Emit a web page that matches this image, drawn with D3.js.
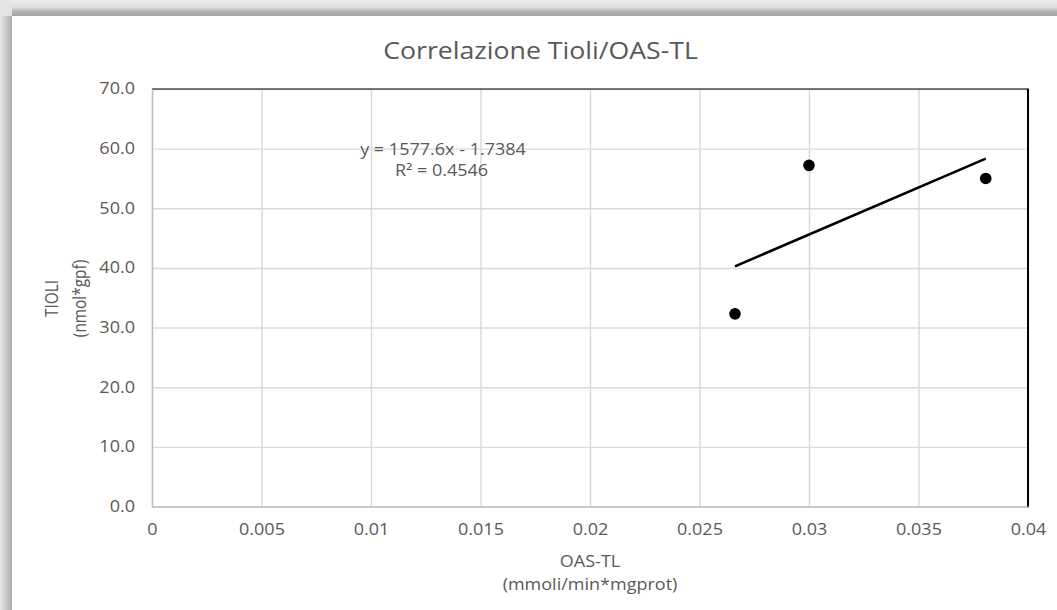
<!DOCTYPE html>
<html>
<head>
<meta charset="utf-8">
<script src="https://cdn.jsdelivr.net/npm/d3@7"></script>
<style>
  html, body { margin: 0; padding: 0; background: #ffffff; }
  svg { display: block; }
  text { font-family: "Open Sans", "Noto Sans", sans-serif; fill: #595959; }
</style>
</head>
<body>
<svg id="chart" width="1057" height="610"></svg>
<script>
// ---- data ----
const title = "Correlazione Tioli/OAS-TL";
const xTitle = ["OAS-TL", "(mmoli/min*mgprot)"];
const yTitle = ["TIOLI", "(nmol*gpf)"];
const oasTL = [0.02662, 0.0300, 0.03807];
const tioli = [32.3, 57.2, 55.0];
const xTickValues = [0, 0.005, 0.01, 0.015, 0.02, 0.025, 0.03, 0.035, 0.04];
const xTickLabels = ["0", "0.005", "0.01", "0.015", "0.02", "0.025", "0.03", "0.035", "0.04"];
const yTickValues = [0, 10, 20, 30, 40, 50, 60, 70];
const yTickLabels = ["0.0", "10.0", "20.0", "30.0", "40.0", "50.0", "60.0", "70.0"];
const trendSlope = 1577.6;
const trendIntercept = -1.7384;
const equationText = "y = 1577.6x - 1.7384";
const r2Text = "R² = 0.4546";

// ---- layout ----
const W = 1057, H = 610;
const SX = 1.17;          // horizontal stretch of the text in the picture
const FS = 15.4;          // base font size
const plot = { left: 152, right: 1028, top: 89, bottom: 506.5 };
const svg = d3.select("#chart");

function addText(x, y, str, size, rotate) {
  return svg.append("text")
    .attr("transform", `translate(${x},${y}) scale(${SX},1)` + (rotate ? ` rotate(${rotate})` : ""))
    .attr("text-anchor", "middle")
    .style("font-size", size + "px")
    .text(str);
}

// frame / shadow
const defs = svg.append("defs");
const gTop = defs.append("linearGradient").attr("id", "gTop").attr("x1", 0).attr("y1", 0).attr("x2", 0).attr("y2", 1);
gTop.append("stop").attr("offset", "0%").attr("stop-color", "#ebebeb");
gTop.append("stop").attr("offset", "45%").attr("stop-color", "#dedede");
gTop.append("stop").attr("offset", "70%").attr("stop-color", "#b4b4b4");
gTop.append("stop").attr("offset", "100%").attr("stop-color", "#a2a2a2");
const gLeft = defs.append("linearGradient").attr("id", "gLeft").attr("x1", 0).attr("y1", 0).attr("x2", 1).attr("y2", 0);
gLeft.append("stop").attr("offset", "0%").attr("stop-color", "#e6e6e6");
gLeft.append("stop").attr("offset", "40%").attr("stop-color", "#d2d2d2");
gLeft.append("stop").attr("offset", "75%").attr("stop-color", "#bcbcbc");
gLeft.append("stop").attr("offset", "100%").attr("stop-color", "#a8a8a8");
svg.append("rect").attr("x", 0).attr("y", 0).attr("width", W).attr("height", 16).attr("fill", "url(#gTop)");
svg.append("rect").attr("x", 0).attr("y", 0).attr("width", 12).attr("height", H).attr("fill", "url(#gLeft)");
svg.append("rect").attr("x", 0).attr("y", 0).attr("width", 12).attr("height", 16).attr("fill", "#e4e4e4");

// scales
const x = d3.scaleLinear().domain([0, 0.04]).range([plot.left, plot.right]);
const y = d3.scaleLinear().domain([0, 70]).range([plot.bottom, plot.top]);

// gridlines
const grid = svg.append("g");
grid.append("g")
  .attr("transform", `translate(0,${plot.bottom})`)
  .call(d3.axisBottom(x).tickValues(xTickValues).tickSize(-(plot.bottom - plot.top)).tickFormat(""))
  .call(g => g.select(".domain").remove())
  .call(g => g.selectAll("line").attr("stroke", "#d9d9d9").attr("stroke-width", 1.4));
grid.append("g")
  .attr("transform", `translate(${plot.left},0)`)
  .call(d3.axisLeft(y).tickValues(yTickValues).tickSize(-(plot.right - plot.left)).tickFormat(""))
  .call(g => g.select(".domain").remove())
  .call(g => g.selectAll("line").attr("stroke", "#d9d9d9").attr("stroke-width", 1.4));

// plot border (top/right black)
svg.append("line").attr("x1", plot.left).attr("x2", plot.right + 1).attr("y1", plot.top).attr("y2", plot.top)
  .attr("stroke", "#000").attr("stroke-width", 1.2);
svg.append("line").attr("x1", plot.right).attr("x2", plot.right).attr("y1", plot.top).attr("y2", plot.bottom + 1)
  .attr("stroke", "#000").attr("stroke-width", 2);

// axes
const xPad = 17.5;
const xAxis = svg.append("g")
  .attr("transform", `translate(0,${plot.bottom})`)
  .call(d3.axisBottom(x).tickValues(xTickValues).tickSize(0).tickPadding(xPad)
    .tickFormat((d, i) => xTickLabels[i]));
xAxis.select(".domain").attr("stroke", "#bfbfbf").attr("stroke-width", 1.5);
xAxis.selectAll("text").style("font-size", FS + "px").attr("fill", "#595959")
  .attr("transform", `scale(${SX},1)`);

const yPad = 17;
const yAxis = svg.append("g")
  .attr("transform", `translate(${plot.left},0)`)
  .call(d3.axisLeft(y).tickValues(yTickValues).tickSize(0).tickPadding(yPad)
    .tickFormat((d, i) => yTickLabels[i]));
yAxis.select(".domain").attr("stroke", "#bfbfbf").attr("stroke-width", 1.5);
yAxis.selectAll("text").style("font-size", FS + "px").attr("fill", "#595959")
  .attr("x", 0).attr("transform", `translate(${-yPad},0) scale(${SX},1)`);

// trendline
const xMin = d3.min(oasTL), xMax = d3.max(oasTL);
const trend = [xMin, xMax].map(v => [v, trendSlope * v + trendIntercept]);
svg.append("path")
  .datum(trend)
  .attr("d", d3.line().x(d => x(d[0])).y(d => y(d[1])))
  .attr("fill", "none").attr("stroke", "#000").attr("stroke-width", 2.6);

// points
svg.append("g").selectAll("circle")
  .data(oasTL.map((v, i) => [v, tioli[i]]))
  .join("circle")
  .attr("cx", d => x(d[0])).attr("cy", d => y(d[1]))
  .attr("r", 5.8).attr("fill", "#000");

// equation label
addText(443, 155, equationText, FS);
addText(441.5, 176, r2Text, FS);

// title
addText(540.5, 59, title, 22.8);

// x title
const cx = (plot.left + plot.right) / 2;
addText(cx, 566.5, xTitle[0], FS);
addText(cx, 590, xTitle[1], FS);

// y title
const cy = 298.5;
addText(57.5, cy, yTitle[0], FS, -90);
addText(85.5, cy, yTitle[1], FS, -90);
</script>
</body>
</html>
